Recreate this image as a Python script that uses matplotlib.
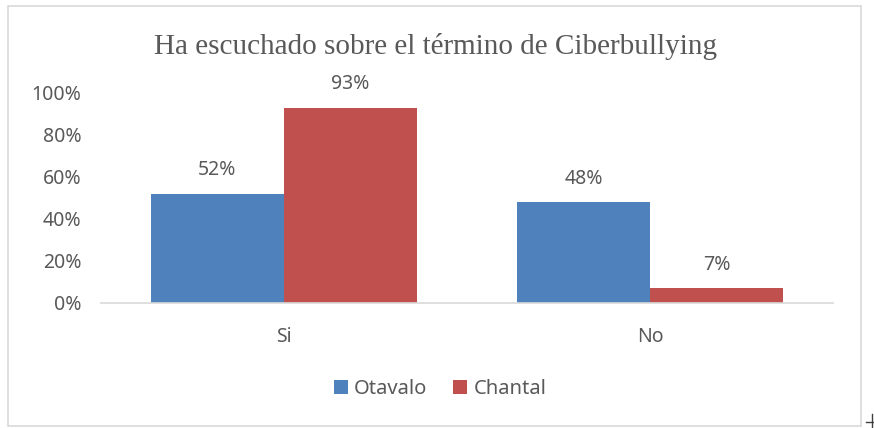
import matplotlib.pyplot as plt
from matplotlib.patches import Rectangle
from matplotlib.lines import Line2D

categorias = ['Si', 'No']
otavalo = [52, 48]
chantal = [93, 7]
series = ['Otavalo', 'Chantal']
colores = ['#4f81bd', '#c0504d']
gris = '#595959'

plt.rcParams['font.family'] = ['Noto Sans', 'DejaVu Sans']

fig = plt.figure(figsize=(8.74, 4.28), dpi=100)
ax = fig.add_axes([101 / 874, 1 - 303 / 428, 732 / 874, 210 / 428])

# marco del grafico
fig.add_artist(Rectangle((8 / 874, 2 / 428), 853 / 874, 420 / 428, transform=fig.transFigure,
                         fill=False, edgecolor='#d9d9d9', linewidth=1.2))
fig.add_artist(Line2D([866 / 874, 874 / 874], [6 / 428, 6 / 428], transform=fig.transFigure, color='#404040', lw=1))
fig.add_artist(Line2D([872 / 874, 872 / 874], [0, 14 / 428], transform=fig.transFigure, color='#404040', lw=1))

x = range(len(categorias))
ancho = 0.364
b1 = ax.bar([i - ancho / 2 for i in x], otavalo, ancho, color=colores[0], label=series[0])
b2 = ax.bar([i + ancho / 2 for i in x], chantal, ancho, color=colores[1], label=series[1])

for barras in (b1, b2):
    for b in barras:
        ax.annotate(f'{b.get_height():.0f}%', (b.get_x() + b.get_width() / 2, b.get_height()),
                    xytext=(0, 17), textcoords='offset points', ha='center', va='center',
                    fontsize=14, color=gris)

ax.set_xlim(-0.5, 1.5)
ax.set_ylim(0, 100)
ax.set_yticks(range(0, 101, 20))
ax.set_yticklabels([f'{v}%' for v in range(0, 101, 20)], fontsize=14, color=gris)
ax.set_xticks(list(x))
ax.set_xticklabels(categorias, fontsize=14, color=gris)
ax.tick_params(length=0)
ax.tick_params(axis='x', pad=17)
ax.tick_params(axis='y', pad=14)
for s in ['top', 'right', 'left']:
    ax.spines[s].set_visible(False)
ax.spines['bottom'].set_color('#d9d9d9')
ax.spines['bottom'].set_linewidth(1.2)

fig.text(435 / 874, 1 - 47 / 428, 'Ha escuchado sobre el término de Ciberbullying',
         ha='center', va='center', fontsize=21, color=gris, family='Liberation Serif')

fig.legend(loc='center', bbox_to_anchor=(440 / 874, 1 - 389 / 428), ncol=2, frameon=False,
           fontsize=14.5, handlelength=0.7, handleheight=0.7, handletextpad=0.3, columnspacing=1.3,
           labelcolor=gris)

fig.savefig('out.png', dpi=100)
